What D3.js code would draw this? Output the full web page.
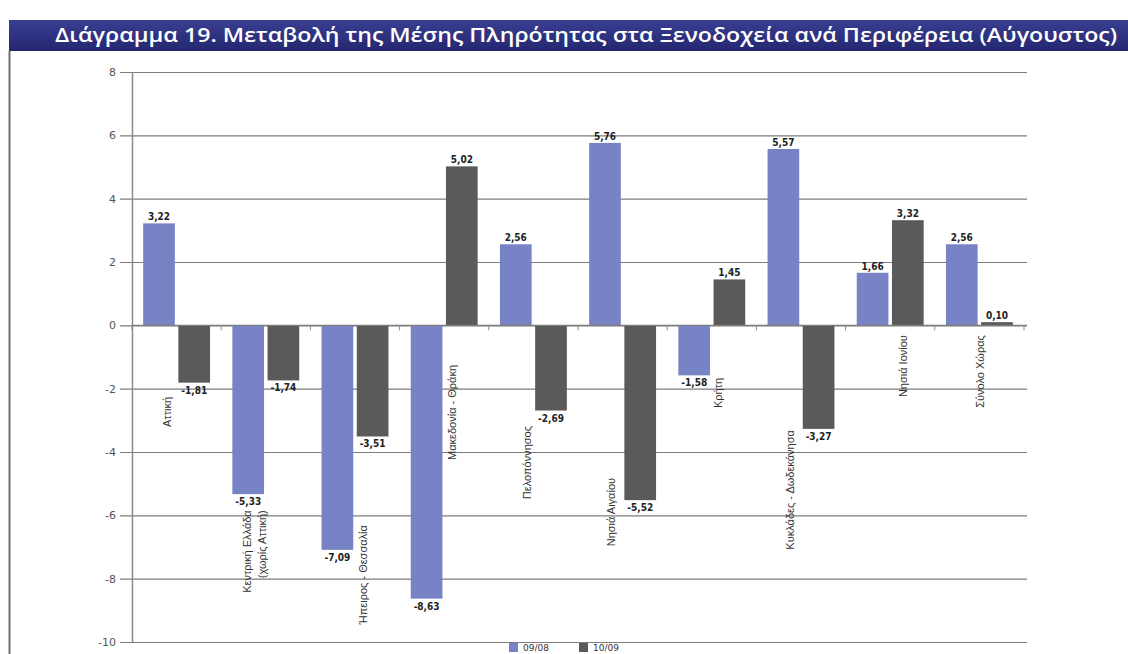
<!DOCTYPE html>
<html>
<head>
<meta charset="utf-8">
<script src="https://cdn.jsdelivr.net/npm/d3@7"></script>
<style>
  body { margin: 0; background: #fff; }
  svg { display: block; }
</style>
</head>
<body>
<div id="chart"></div>
<script>
// --- data ---
const title = "Διάγραμμα 19. Μεταβολή της Μέσης Πληρότητας στα Ξενοδοχεία ανά Περιφέρεια (Αύγουστος)";
const regions = [
  "Αττική",
  "Κεντρική Ελλάδα\n(χωρίς Αττική)",
  "Ήπειρος - Θεσσαλία",
  "Μακεδονία - Θράκη",
  "Πελοπόννησος",
  "Νησιά Αιγαίου",
  "Κρήτη",
  "Κυκλάδες - Δωδεκάνησα",
  "Νησιά Ιονίου",
  "Σύνολο Χώρας"
];
const series = ["09/08", "10/09"];
const change0908 = [3.22, -5.33, -7.09, -8.63, 2.56, 5.76, -1.58, 5.57, 1.66, 2.56];
const change1009 = [-1.81, -1.74, -3.51, 5.02, -2.69, -5.52, 1.45, -3.27, 3.32, 0.10];
const yTicks = [-10, -8, -6, -4, -2, 0, 2, 4, 6, 8];

// category labels were hand-placed in the original: top end (in axis units) and sideways nudge (px)
const labelTop = [-2.26, -5.84, -6.31, -1.25, -3.18, -4.82, -1.66, -3.31, -0.31, -0.31];
const labelNudge = [-9, -11, 8, 8, -6, -11, 6, -11, 13, 1];

const colors = ["#7883c6", "#5a5a5a"];

const width = 1128, height = 654;

const rows = regions.map((name, i) => ({
  name,
  values: [change0908[i], change1009[i]]
}));

// plain hyphen for negatives, comma decimals, like the original
const locale = d3.formatLocale({ decimal: ",", thousands: ".", grouping: [3], currency: ["", "€"], minus: "-" });
const fmt = locale.format(".2f");
const fmtTick = locale.format("d");

const svg = d3.select("#chart").append("svg")
  .attr("width", width)
  .attr("height", height);

// title bar
const grad = svg.append("defs").append("linearGradient")
  .attr("id", "bar-bg").attr("x1", 0).attr("x2", 0).attr("y1", 0).attr("y2", 1);
grad.append("stop").attr("offset", 0).attr("stop-color", "#3a3e92");
grad.append("stop").attr("offset", 1).attr("stop-color", "#24276f");

svg.append("rect")
  .attr("x", 9).attr("y", 20)
  .attr("width", width - 9).attr("height", 31)
  .attr("fill", "url(#bar-bg)");

svg.append("text")
  .attr("x", 586).attr("y", 42)
  .attr("text-anchor", "middle")
  .attr("fill", "#fff")
  .attr("font-family", "'Open Sans', sans-serif")
  .attr("font-weight", 600)
  .attr("font-size", 19)
  .attr("textLength", 1062)
  .attr("lengthAdjust", "spacingAndGlyphs")
  .text(title);

// left page border
svg.append("line")
  .attr("x1", 9.5).attr("x2", 9.5)
  .attr("y1", 51).attr("y2", height)
  .attr("stroke", "#6e6e6e").attr("stroke-width", 2);

// scales
const x0 = d3.scaleBand()
  .domain(d3.range(regions.length))
  .range([132, 1024])
  .paddingInner(0.25)
  .paddingOuter(0.125);

const x1 = d3.scaleBand()
  .domain(series)
  .range([0, x0.bandwidth()])
  .paddingInner(0.1);

const y = d3.scaleLinear().domain([-10, 8]).range([642, 72]);

// gridlines + y tick labels
const yAxis = svg.append("g")
  .attr("transform", "translate(120,0)")
  .call(d3.axisLeft(y).tickValues(yTicks).tickSize(-907).tickPadding(4).tickFormat(fmtTick));
yAxis.select(".domain").remove();
yAxis.selectAll(".tick line").attr("stroke", "#7d7d7d").attr("stroke-width", 1.2);
yAxis.selectAll(".tick text")
  .attr("fill", "#555")
  .attr("font-family", "'DejaVu Sans', sans-serif")
  .attr("font-size", 11);

// vertical axis line
svg.append("line")
  .attr("x1", 132.5).attr("x2", 132.5)
  .attr("y1", y(8)).attr("y2", y(-10))
  .attr("stroke", "#8a8a8a").attr("stroke-width", 1.5);

// bars
const group = svg.append("g").selectAll("g")
  .data(rows)
  .join("g")
  .attr("transform", (d, i) => `translate(${x0(i)},0)`);

group.selectAll("rect")
  .data(d => d.values.map((v, k) => ({ key: series[k], value: v })))
  .join("rect")
  .attr("x", d => x1(d.key))
  .attr("width", x1.bandwidth())
  .attr("y", d => y(Math.max(0, d.value)))
  .attr("height", d => Math.abs(y(d.value) - y(0)))
  .attr("fill", (d, k) => colors[k]);

// value labels
group.selectAll("text.val")
  .data(d => d.values.map((v, k) => ({ key: series[k], value: v })))
  .join("text")
  .attr("class", "val")
  .attr("x", d => x1(d.key) + x1.bandwidth() / 2)
  .attr("y", d => d.value >= 0 ? y(d.value) - 3 : y(d.value) + 11)
  .attr("text-anchor", "middle")
  .attr("font-family", "'DejaVu Sans Condensed', 'DejaVu Sans', sans-serif")
  .attr("font-weight", "bold")
  .attr("font-size", 10)
  .attr("fill", "#222")
  .text(d => fmt(d.value));

// zero line and category boundary ticks
svg.append("line")
  .attr("x1", 132).attr("x2", 1027)
  .attr("y1", y(0)).attr("y2", y(0))
  .attr("stroke", "#7d7d7d").attr("stroke-width", 1.2);

const gap = (x0.step() - x0.bandwidth()) / 2;
svg.append("g").selectAll("line")
  .data(d3.range(regions.length + 1))
  .join("line")
  .attr("x1", i => (i < regions.length ? x0(i) : x0(i - 1) + x0.step()) - gap)
  .attr("x2", i => (i < regions.length ? x0(i) : x0(i - 1) + x0.step()) - gap)
  .attr("y1", y(0)).attr("y2", y(0) + 5)
  .attr("stroke", "#8a8a8a");

// category labels, rotated, reading bottom to top
const cat = svg.append("g").selectAll("g")
  .data(rows)
  .join("g")
  .attr("transform", (d, i) =>
    `translate(${x0(i) + x0.bandwidth() / 2 + labelNudge[i]},${y(labelTop[i])}) rotate(-90)`);

cat.selectAll("text")
  .data(d => {
    const lines = d.name.split("\n");
    return lines.map((t, j) => ({ t, off: (j - (lines.length - 1) / 2) * 15 }));
  })
  .join("text")
  .attr("x", 0)
  .attr("y", d => d.off)
  .attr("dy", "0.35em")
  .attr("text-anchor", "end")
  .attr("font-family", "'Liberation Sans Narrow', 'Liberation Sans', sans-serif")
  .attr("font-size", 11)
  .attr("fill", "#333")
  .text(d => d.t);

// legend (sits at the very bottom edge, as in the scan)
const legend = svg.append("g").attr("transform", "translate(509,643)");
const legendX = [0, 70];
series.forEach((s, k) => {
  legend.append("rect")
    .attr("x", legendX[k]).attr("y", 0)
    .attr("width", 9).attr("height", 9)
    .attr("fill", colors[k]);
  legend.append("text")
    .attr("x", legendX[k] + 14).attr("y", 8)
    .attr("font-family", "'DejaVu Sans', sans-serif")
    .attr("font-size", 9)
    .attr("fill", "#333")
    .text(s);
});
</script>
</body>
</html>
